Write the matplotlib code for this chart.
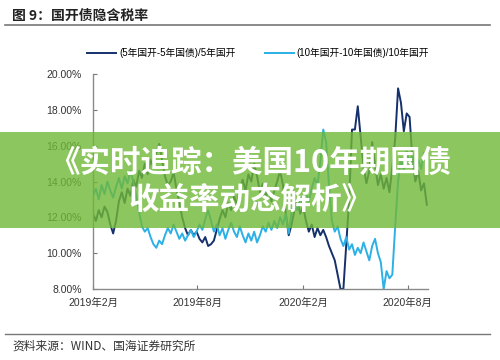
import matplotlib
matplotlib.use("Agg")
import matplotlib.pyplot as plt
import pandas as pd
import numpy as np
from matplotlib.patches import Rectangle

plt.rcParams['font.family'] = ['Liberation Sans', 'Noto Sans CJK SC', 'DejaVu Sans']

dates = pd.date_range('2019-02-01', periods=117, freq='5D')

spread_5y = [12.2, 11.8, 12.4, 12.0, 12.6, 12.3, 11.6, 11.1, 11.8, 12.9,
             13.4, 12.8, 13.6, 13.2, 14.1, 13.7, 14.6, 14.2, 15.0, 14.4,
             15.2, 14.8, 15.6, 16.1, 15.2, 14.3, 13.8, 14.0, 14.5, 13.6,
             12.8, 12.0, 11.4, 11.0, 11.3, 11.0, 11.2, 10.8, 10.6, 10.9,
             10.4, 10.5, 10.7, 11.3, 11.9, 12.4, 12.0, 12.8, 12.4, 13.2,
             12.7, 13.6, 14.1, 13.5, 14.4, 14.0, 15.0, 14.3, 13.4, 13.9,
             13.1, 13.6, 12.9, 13.5, 14.0, 14.6, 13.8, 12.2, 11.0, 11.6,
             12.4, 13.0, 12.2, 12.6, 11.8, 11.2, 11.6, 10.9, 11.4, 11.0,
             11.3, 10.9, 10.4, 10.0, 9.6, 8.8, 8.0, 8.0, 10.5, 13.0,
             16.9, 16.9, 18.2, 16.5, 14.8, 13.9, 14.6, 16.2, 14.9, 13.8,
             14.4, 13.6, 14.2, 13.4, 14.8, 16.4, 19.2, 18.4, 16.8, 17.8,
             17.6, 15.2, 14.0, 14.6, 13.5, 13.9, 12.7]

spread_10y = [13.2, 13.6, 13.0, 13.8, 13.3, 14.0, 13.5, 13.1, 13.7, 14.2,
              13.6, 14.3, 13.9, 14.6, 14.0, 13.2, 12.3, 11.5, 11.2, 11.4,
              10.9, 10.5, 10.3, 10.7, 10.5, 11.0, 11.4, 11.1, 11.6, 11.2,
              10.8, 11.1, 10.7, 11.0, 11.3, 10.9, 11.2, 11.6, 11.3, 11.9,
              12.4, 11.8, 11.2, 11.6, 11.0, 11.4, 10.8, 11.3, 11.7, 11.2,
              10.9, 11.5, 11.0, 10.6, 11.1, 10.7, 11.2, 10.6, 11.0, 11.5,
              11.2, 11.7, 11.3, 11.8, 11.4, 12.0, 11.6, 12.2, 11.1, 12.3,
              12.8, 12.4, 13.1, 12.6, 13.4, 12.9, 13.6, 14.2, 13.8, 15.1,
              16.9, 16.2, 13.8, 11.8, 11.2, 11.5, 10.8, 10.4, 10.9, 10.2,
              10.5, 9.9, 10.3, 10.0, 10.6, 10.1, 9.6, 10.4, 10.8, 10.0,
              9.5, 8.0, 9.0, 8.6, 8.8, 11.5, 14.0, 15.3, 14.6, 15.8,
              14.9, 15.5, 14.4, 15.2, 14.7, 15.6, 14.8]

labels = ['(5年国开-5年国债)/5年国开', '(10年国开-10年国债)/10年国开']
tick_dates = ['2019-02-01', '2019-08-01', '2020-02-01', '2020-08-01']
tick_labels = ['2019年2月', '2019年8月', '2020年2月', '2020年8月']
y_ticks = [8, 10, 12, 14, 16, 18, 20]

W, H = 500, 360
fig = plt.figure(figsize=(5.0, 3.6), dpi=100)
ax = fig.add_axes([93 / W, 1 - 289 / H, (428 - 93) / W, (289 - 74) / H])

c5, c10 = '#15306b', '#2cb0e6'
l1, = ax.plot(dates, spread_5y, color=c5, lw=1.4)
l2, = ax.plot(dates, spread_10y, color=c10, lw=1.4)

ax.set_ylim(8, 20)
ax.set_xlim(pd.Timestamp('2019-02-01'), pd.Timestamp('2020-09-05'))
ax.set_yticks(y_ticks)
ax.set_yticklabels([f'{v:.2f}%' for v in y_ticks], fontsize=7.5, color='#333333')
ax.set_xticks(pd.to_datetime(tick_dates))
ax.set_xticklabels(tick_labels, fontsize=7.5, color='#333333')
ax.tick_params(axis='both', direction='in', length=3, color='#777777', width=0.8)
ax.tick_params(axis='y', pad=8)
ax.tick_params(axis='x', pad=6)
for s in ['top', 'right']:
    ax.spines[s].set_visible(False)
for s in ['left', 'bottom']:
    ax.spines[s].set_color('#8a8a8a')
    ax.spines[s].set_linewidth(1.0)

fig.legend([l1, l2], labels, loc='center', bbox_to_anchor=(258 / W, 1 - 53 / H),
           ncol=2, frameon=False, handlelength=3.0, columnspacing=3.0,
           handletextpad=0.3, prop={'family': ['Liberation Sans', 'Noto Sans CJK SC'], 'size': 7})

# header and footer
fig.text(12 / W, 1 - 16 / H, '图 9：国开债隐含税率', fontsize=10, fontweight='bold',
         family=['Noto Sans CJK SC'], va='center', ha='left', color='#222222')
fig.add_artist(plt.Line2D([5 / W, 490 / W], [1 - 25 / H, 1 - 25 / H], color='#777777', lw=1.2))
fig.add_artist(plt.Line2D([5 / W, 490 / W], [1 - 334 / H, 1 - 334 / H], color='#777777', lw=1.0))
fig.text(12 / W, 1 - 346 / H, '资料来源：WIND、国海证券研究所', fontsize=8.5,
         family=['Noto Sans CJK SC'], va='center', ha='left', color='#333333')

# overlay banner
fig.add_artist(Rectangle((0, 1 - 228 / H), 1, 96 / H, transform=fig.transFigure,
                         facecolor='#70b836', alpha=0.8, edgecolor='none', zorder=5))
fig.text(0.5, 1 - 163 / H, '《实时追踪：美国10年期国债', fontsize=22, fontweight='bold',
         family=['Noto Sans CJK SC'], color='white', ha='center', va='center', zorder=6)
fig.text(0.5, 1 - 200 / H, '收益率动态解析》', fontsize=22, fontweight='bold',
         family=['Noto Sans CJK SC'], color='white', ha='center', va='center', zorder=6)

fig.savefig('out.png', dpi=100)
